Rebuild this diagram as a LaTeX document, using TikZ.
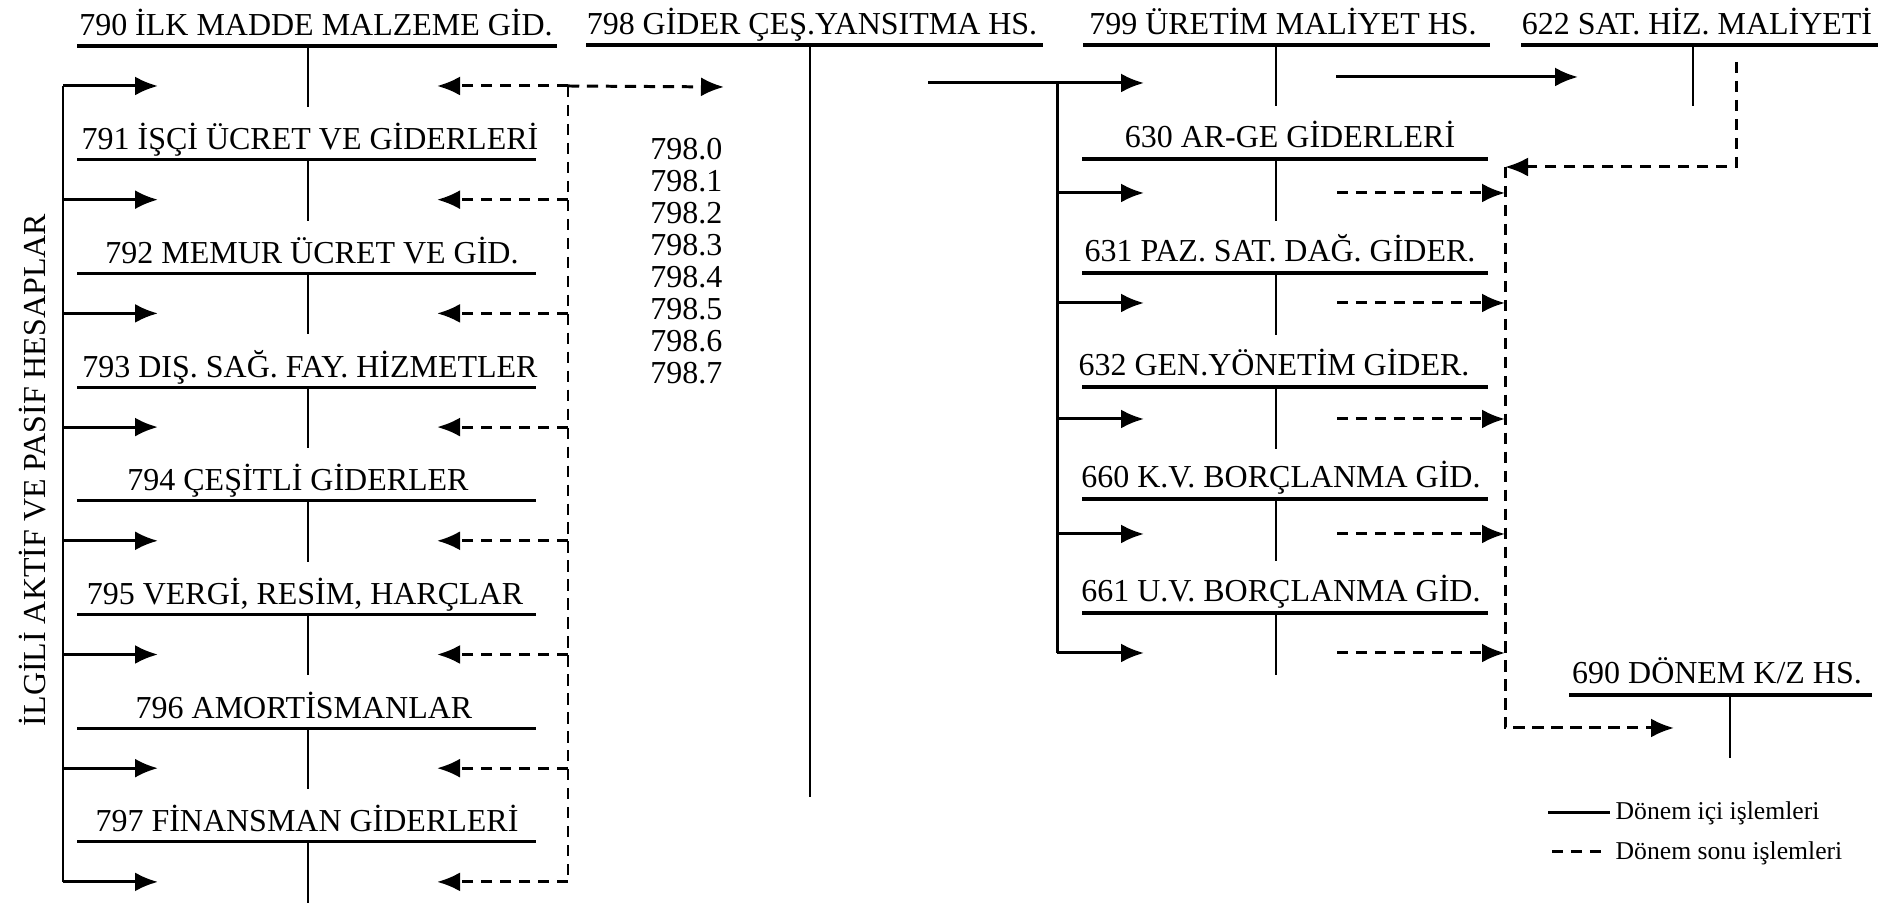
\documentclass[tikz,border=0pt]{standalone}
\usepackage{fontspec}
\setmainfont{Liberation Serif}
\usetikzlibrary{arrows.meta}
\tikzset{>={Latex[length=2.3mm,width=1.9mm]}}
\tikzstyle{acct}=[inner sep=0pt,anchor=base,font=\fontsize{9.1}{11}\selectfont]
\tikzstyle{legtext}=[inner sep=0pt,anchor=base west,font=\fontsize{7.3}{9}\selectfont]
\tikzstyle{uline}=[line width=0.9pt]
\tikzstyle{stem}=[line width=0.6pt]
\tikzstyle{flow}=[->,line width=0.85pt]
\tikzstyle{close}=[->,line width=0.85pt,dash pattern=on 3.2pt off 2.2pt]

\begin{document}
\begin{tikzpicture}[x=0.1mm,y=-0.1mm]
  \useasboundingbox (0,0) rectangle (1903,904);
  \def\dy{113.7} % row pitch, left column

  % LEFT COLUMN 790-797
  \foreach \n/\tx/\xr/\lbl [count=\k from 0] in {
      790/316/557/{790 İLK MADDE MALZEME GİD.},
      791/310/536/{791 İŞÇİ ÜCRET VE GİDERLERİ},
      792/312/536/{792 MEMUR ÜCRET VE GİD.},
      793/310/536/{793 DIŞ. SAĞ. FAY. HİZMETLER},
      794/298/536/{794 ÇEŞİTLİ GİDERLER},
      795/305/536/{795 VERGİ, RESİM, HARÇLAR},
      796/304/536/{796 AMORTİSMANLAR},
      797/307/536/{797 FİNANSMAN GİDERLERİ}}{
    \pgfmathsetmacro\y{46+\dy*\k}
    \node[acct] (a\n) at (\tx,\y-10) {\lbl};
    \draw[uline] (77,\y) -- (\xr,\y);
    \draw[stem] (308,\y) -- ++(0,61);
    \coordinate (in\n) at (63,\y+40);
    \coordinate (out\n) at (568,\y+40);
    \draw[flow] (in\n) -- ++(95,0);
    \draw[close] (out\n) -- ++(-131,0);
  }
  \draw[flow,-] (in790) -- (in797);
  \draw[close,-] (out790) -- (out797);
  \node[acct,anchor=center,rotate=90] (side) at (33,470) {İLGİLİ AKTİF VE PASİF HESAPLAR};

  % 798
  \node[acct] (a798) at (812,35) {798 GİDER ÇEŞ.YANSITMA HS.};
  \draw[uline] (586,45) -- (1043,45);
  \draw[line width=0.75pt] (810,45) -- (810,797);
  \foreach \i in {0,...,7}
    \node[acct,anchor=base east] (s\i) at (723,160+32*\i) {798.\i};
  \coordinate (to798) at (724,87);
  \draw[close] (out790) -- (to798);

  % 799 AND 622
  \node[acct] (a799) at (1283,35) {799 ÜRETİM MALİYET HS.};
  \draw[uline] (1083,45) -- (1490,45);
  \draw[stem] (1276,45) -- (1276,106);
  \node[acct] (a622) at (1697,35) {622 SAT. HİZ. MALİYETİ};
  \draw[uline] (1521,45) -- (1878,45);
  \draw[stem] (1693,45) -- (1693,106);
  \coordinate (from798) at (928,83);
  \coordinate (to799) at (1144,83);
  \draw[flow] (from798) -- (to799);
  \coordinate (from799) at (1336,77);
  \coordinate (to622) at (1578,77);
  \draw[flow] (from799) -- (to622);

  % RIGHT COLUMN 630-661
  \foreach \n/\tx/\y/\ay/\lbl in {
      630/1290/159/193/{630 AR-GE GİDERLERİ},
      631/1280/273/303/{631 PAZ. SAT. DAĞ. GİDER.},
      632/1274/387/419/{632 GEN.YÖNETİM GİDER.},
      660/1281/499/534/{660 K.V. BORÇLANMA GİD.},
      661/1281/613/653/{661 U.V. BORÇLANMA GİD.}}{
    \node[acct] (a\n) at (\tx,\y-11) {\lbl};
    \draw[uline] (1082,\y) -- (1488,\y);
    \draw[stem] (1276,\y) -- ++(0,62);
    \coordinate (in\n) at (1057,\ay);
    \coordinate (out\n) at (1337,\ay);
    \draw[flow] (in\n) -- ++(87,0);
    \draw[close] (out\n) -- ++(168,0);
  }
  \draw[flow,-] (1057,83) -- (in661);

  % CLOSING TO 690
  \coordinate (c622) at (1736,62);
  \coordinate (back) at (1505,167);
  \coordinate (to690) at (1674,728);
  \draw[close] (c622) |- (back);
  \draw[close] (back) |- (to690);
  \node[acct] (a690) at (1717,684) {690 DÖNEM K/Z HS.};
  \draw[uline] (1569,695) -- (1872,695);
  \draw[stem] (1730,695) -- (1730,758);

  % LEGEND
  \draw[flow,-] (1548,813) -- (1610,813);
  \node[legtext] (leg1) at (1615,820) {Dönem içi işlemleri};
  \draw[close,-] (1552,852) -- (1608,852);
  \node[legtext] (leg2) at (1615,860) {Dönem sonu işlemleri};
\end{tikzpicture}
\end{document}
